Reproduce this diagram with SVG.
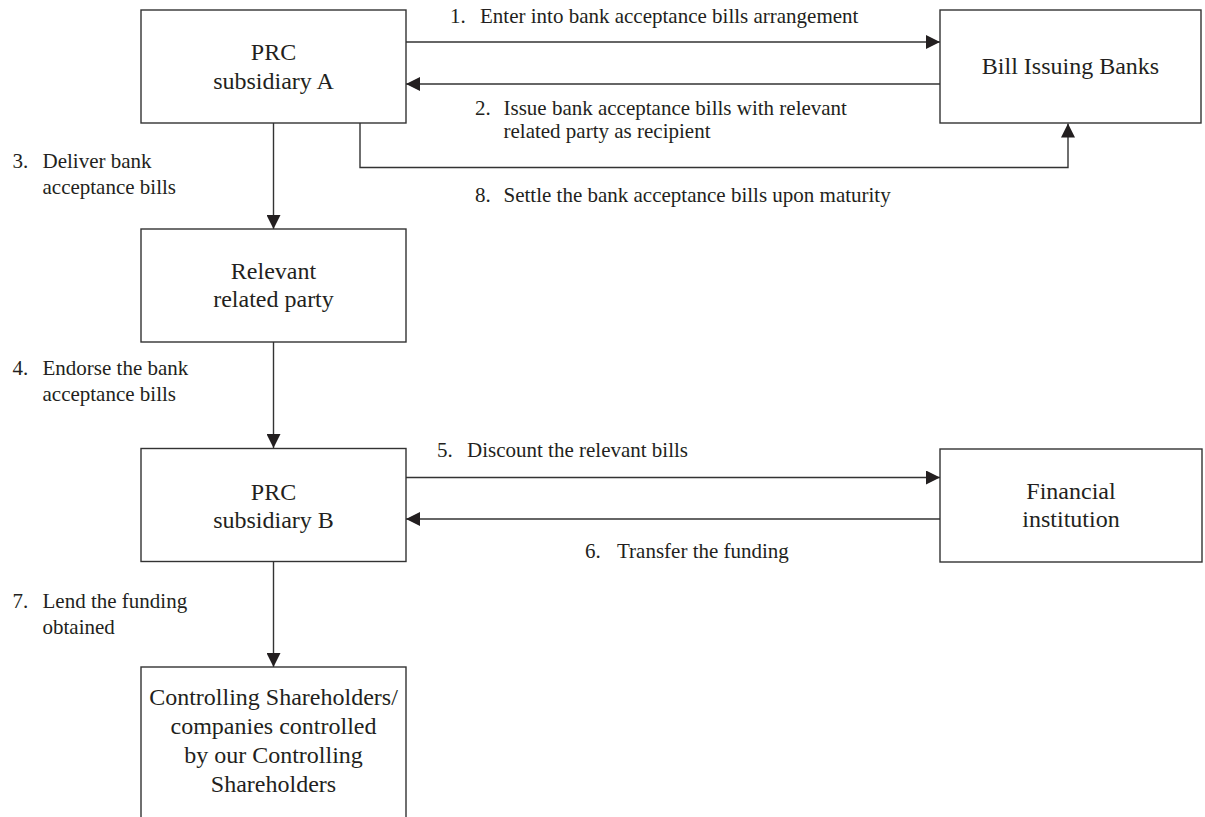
<svg xmlns="http://www.w3.org/2000/svg" width="1205" height="817" viewBox="0 0 1205 817">
  <style>
    .box { fill: #ffffff; stroke: #333333; stroke-width: 1.4; }
    .node { font-family: "Liberation Serif", "Times New Roman", serif; font-size: 24px; fill: #231f20; text-anchor: middle; }
    .lbl { font-family: "Liberation Serif", "Times New Roman", serif; font-size: 21px; fill: #231f20; }
    .wire { fill: none; stroke: #333333; stroke-width: 1.4; }
  </style>
  <defs>
    <marker id="arrow" viewBox="0 0 14 14" refX="14" refY="7" markerWidth="14" markerHeight="14" markerUnits="userSpaceOnUse" orient="auto">
      <path d="M0,0 L14,7 L0,14 Z" fill="#231f20"/>
    </marker>
  </defs>

  <rect width="1205" height="817" fill="#ffffff"/>

  <!-- connectors -->
  <g id="connectors">
    <line class="wire" x1="406" y1="42" x2="940" y2="42" marker-end="url(#arrow)"/>
    <line class="wire" x1="940" y1="84" x2="406" y2="84" marker-end="url(#arrow)"/>
    <polyline class="wire" points="360,123 360,167.5 1068,167.5 1068,123.5" marker-end="url(#arrow)"/>
    <line class="wire" x1="273.5" y1="123" x2="273.5" y2="229" marker-end="url(#arrow)"/>
    <line class="wire" x1="273.5" y1="342" x2="273.5" y2="448" marker-end="url(#arrow)"/>
    <line class="wire" x1="406" y1="477.5" x2="940" y2="477.5" marker-end="url(#arrow)"/>
    <line class="wire" x1="940" y1="519" x2="406" y2="519" marker-end="url(#arrow)"/>
    <line class="wire" x1="273.5" y1="562" x2="273.5" y2="667" marker-end="url(#arrow)"/>
  </g>

  <!-- step labels -->
  <g id="labels" class="lbl">
    <text x="450" y="23">1.</text>
    <text x="480" y="23">Enter into bank acceptance bills arrangement</text>

    <text x="475" y="115">2.</text>
    <text x="503.5" y="115">Issue bank acceptance bills with relevant</text>
    <text x="503.5" y="138">related party as recipient</text>

    <text x="475" y="202">8.</text>
    <text x="503.5" y="202">Settle the bank acceptance bills upon maturity</text>

    <text x="12.5" y="168">3.</text>
    <text x="42.5" y="168">Deliver bank</text>
    <text x="42.5" y="194">acceptance bills</text>

    <text x="12.5" y="375">4.</text>
    <text x="42.5" y="375">Endorse the bank</text>
    <text x="42.5" y="401">acceptance bills</text>

    <text x="437" y="457">5.</text>
    <text x="467" y="457">Discount the relevant bills</text>

    <text x="585" y="558">6.</text>
    <text x="617" y="558">Transfer the funding</text>

    <text x="12.5" y="607.5">7.</text>
    <text x="42.5" y="607.5">Lend the funding</text>
    <text x="42.5" y="634">obtained</text>
  </g>

  <!-- nodes -->
  <g id="prc-subsidiary-a">
    <rect class="box" x="141" y="10" width="265" height="113"/>
    <text class="node" x="273.5" y="60">PRC</text>
    <text class="node" x="273.5" y="89">subsidiary A</text>
  </g>

  <g id="bill-issuing-banks">
    <rect class="box" x="940" y="10" width="261" height="113"/>
    <text class="node" x="1070.5" y="74">Bill Issuing Banks</text>
  </g>

  <g id="relevant-related-party">
    <rect class="box" x="141" y="229" width="265" height="113"/>
    <text class="node" x="273.5" y="278.5">Relevant</text>
    <text class="node" x="273.5" y="307">related party</text>
  </g>

  <g id="prc-subsidiary-b">
    <rect class="box" x="141" y="448.5" width="265" height="113"/>
    <text class="node" x="273.5" y="499.5">PRC</text>
    <text class="node" x="273.5" y="527.5">subsidiary B</text>
  </g>

  <g id="financial-institution">
    <rect class="box" x="940" y="449" width="262" height="113"/>
    <text class="node" x="1071" y="498.5">Financial</text>
    <text class="node" x="1071" y="527">institution</text>
  </g>

  <g id="controlling-shareholders">
    <rect class="box" x="141" y="667" width="265" height="170"/>
    <text class="node" x="273.5" y="705">Controlling Shareholders/</text>
    <text class="node" x="273.5" y="734">companies controlled</text>
    <text class="node" x="273.5" y="763">by our Controlling</text>
    <text class="node" x="273.5" y="792">Shareholders</text>
  </g>
</svg>
